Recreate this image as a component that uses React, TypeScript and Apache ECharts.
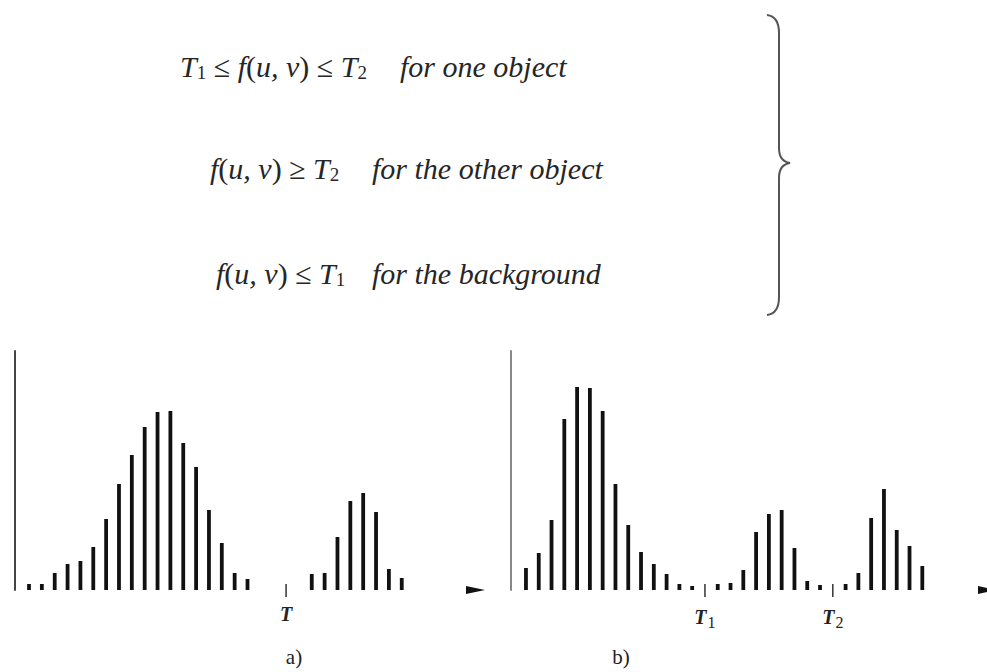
import React, { useEffect, useRef } from "react";
import * as echarts from "echarts";

// Histogram (a): one object on a background, bins 0..29
const countsA = [6, 6, 17, 26, 29, 43, 71, 106, 135, 163, 178, 179, 147, 123, 80, 47, 17, 11, 0, 0, 0, 0, 16, 17, 53, 89, 97, 78, 21, 12];
// Histogram (b): two objects on a background, bins 0..31
const countsB = [22, 37, 70, 171, 203, 202, 179, 106, 65, 38, 26, 16, 6, 4, 0, 6, 7, 20, 58, 76, 80, 42, 9, 5, 0, 6, 17, 72, 101, 60, 44, 24];

// Threshold positions (bin index) and their labels
const thresholdsA = [{ bin: 20, name: "T", sub: "" }];
const thresholdsB = [
  { bin: 14, name: "T", sub: "1" },
  { bin: 24, name: "T", sub: "2" },
];

// Panel captions
const captions = ["a)", "b)"];

// Threshold conditions: [text, style] pieces of the formula, then the wording
const conditions = [
  {
    math: [["T", "it"], ["1", "sub"], [" ≤ ", "op"], ["f", "it"], ["(", "op"], ["u, v", "it"], [")", "op"], [" ≤ ", "op"], ["T", "it"], ["2", "sub"]],
    text: "for one object",
  },
  {
    math: [["f", "it"], ["(", "op"], ["u, v", "it"], [")", "op"], [" ≥ ", "op"], ["T", "it"], ["2", "sub"]],
    text: "for the other object",
  },
  {
    math: [["f", "it"], ["(", "op"], ["u, v", "it"], [")", "op"], [" ≤ ", "op"], ["T", "it"], ["1", "sub"]],
    text: "for the background",
  },
];

const Y_MAX = 239;

const SERIF = "'Liberation Serif', 'DejaVu Serif', serif";
const INK = "#262626";

const bracePath =
  "M767,15 C775,16 779,22 779,33 L779,148 C779,157 783,162 790,163 C783,164 779,169 779,178 L779,297 C779,308 775,314 767,315";

type Threshold = { bin: number; name: string; sub: string };

function barData(counts: number[]) {
  return counts.map((c, i) => [i, c]).filter((d) => d[1] > 0);
}

function tickLabelFormatter(th: Threshold[]) {
  return (v: number) => {
    const t = th.find((x) => Math.abs(x.bin - v) < 1e-6);
    if (!t) return "";
    return t.sub ? `{t|${t.name}}{s|${t.sub}}` : `{t|${t.name}}`;
  };
}

const tickRich = {
  t: { fontFamily: SERIF, fontStyle: "italic", fontWeight: "bold", fontSize: 20, color: "#222" },
  s: { fontFamily: SERIF, fontSize: 16, color: "#222", padding: [10, 0, 0, 1] },
};

const mathRich = {
  it: { fontFamily: SERIF, fontStyle: "italic", fontSize: 30, fill: INK, color: INK },
  op: { fontFamily: SERIF, fontSize: 30, fill: INK, color: INK },
  sub: { fontFamily: SERIF, fontSize: 19, fill: INK, color: INK, padding: [12, 0, 0, 0] },
};

function xAxisFor(gridIndex: number, min: number, max: number, th: Threshold[]) {
  return {
    type: "value",
    gridIndex,
    min,
    max,
    axisLine: { show: false },
    axisTick: { show: false },
    splitLine: { show: false },
    axisLabel: {
      show: true,
      customValues: th.map((t) => t.bin),
      formatter: tickLabelFormatter(th),
      margin: 14,
      fontSize: 20,
      rich: tickRich,
    },
  };
}

function yAxisFor(gridIndex: number, color: string) {
  return {
    type: "value",
    gridIndex,
    min: 0,
    max: Y_MAX,
    axisLine: { show: true, onZero: false, lineStyle: { color, width: 2 } },
    axisTick: { show: false },
    axisLabel: { show: false },
    splitLine: { show: false },
  };
}

// Small threshold marks that cross the baseline
function thresholdTicks(idx: number, th: Threshold[]) {
  return {
    type: "custom",
    xAxisIndex: idx,
    yAxisIndex: idx,
    clip: false,
    data: th.map((t) => [t.bin, 0]),
    renderItem: (_p: any, api: any) => {
      const p = api.coord([api.value(0), 0]);
      return {
        type: "line",
        shape: { x1: p[0], y1: p[1] - 6, x2: p[0], y2: p[1] + 7 },
        style: { stroke: "#333", lineWidth: 1.5 },
      };
    },
  };
}

// Arrowhead at the end of the (hidden) intensity axis
function axisArrow(idx: number, xMax: number) {
  return {
    type: "custom",
    xAxisIndex: idx,
    yAxisIndex: idx,
    clip: false,
    data: [[xMax, 0]],
    renderItem: (_p: any, api: any) => {
      const p = api.coord([api.value(0), 0]);
      return {
        type: "polygon",
        shape: {
          points: [
            [p[0] - 9, p[1] - 4],
            [p[0] + 10, p[1]],
            [p[0] - 9, p[1] + 4],
          ],
        },
        style: { fill: "#111" },
      };
    },
  };
}

export default function App() {
  const ref = useRef<HTMLDivElement>(null);

  useEffect(() => {
    if (!ref.current) return;
    echarts.graphic.registerShape("brace", echarts.graphic.extendPath(bracePath, {}) as any);
    const chart = echarts.init(ref.current, null, { renderer: "svg" });

    const aMin = -1.09, aMax = 34.7;
    const bMin = -1.17, bMax = 36.06;

    const mathX = [180, 210, 216];
    const textX = [400, 372, 372];
    const lineY = [66, 168, 273];

    const graphics: any[] = [];
    conditions.forEach((c, i) => {
      graphics.push({
        type: "text",
        x: mathX[i],
        y: lineY[i],
        style: {
          text: c.math.map(([s, k]) => `{${k}|${s}}`).join(""),
          rich: mathRich,
          verticalAlign: "middle",
          align: "left",
          fill: INK,
        },
      });
      graphics.push({
        type: "text",
        x: textX[i],
        y: lineY[i],
        style: {
          text: c.text,
          fontFamily: SERIF,
          fontStyle: "italic",
          fontSize: 30,
          fill: INK,
          verticalAlign: "middle",
          align: "left",
        },
      });
    });
    graphics.push({
      type: "brace",
      x: 0,
      y: 0,
      style: { stroke: "#555", lineWidth: 2, fill: "none" },
    });
    graphics.push({
      type: "text",
      x: 294,
      y: 657,
      style: { text: captions[0], fontFamily: SERIF, fontSize: 21, fill: "#222", align: "center", verticalAlign: "middle" },
    });
    graphics.push({
      type: "text",
      x: 621,
      y: 657,
      style: { text: captions[1], fontFamily: SERIF, fontSize: 21, fill: "#222", align: "center", verticalAlign: "middle" },
    });

    chart.setOption({
      animation: false,
      backgroundColor: "#ffffff",
      grid: [
        { left: 15, top: 351, width: 460, height: 239 },
        { left: 511, top: 351, width: 478, height: 239 },
      ],
      xAxis: [xAxisFor(0, aMin, aMax, thresholdsA), xAxisFor(1, bMin, bMax, thresholdsB)],
      yAxis: [yAxisFor(0, "#444"), yAxisFor(1, "#888")],
      series: [
        {
          type: "bar",
          xAxisIndex: 0,
          yAxisIndex: 0,
          barWidth: 3.8,
          itemStyle: { color: "#111" },
          data: barData(countsA),
        },
        {
          type: "bar",
          xAxisIndex: 1,
          yAxisIndex: 1,
          barWidth: 3.8,
          itemStyle: { color: "#111" },
          data: barData(countsB),
        },
        thresholdTicks(0, thresholdsA),
        thresholdTicks(1, thresholdsB),
        axisArrow(0, aMax),
        axisArrow(1, bMax),
      ],
      graphic: graphics,
    });

    return () => chart.dispose();
  }, []);

  return (
    <div
      ref={ref}
      style={{ position: "absolute", left: 0, top: 0, width: 987, height: 672, background: "#fff" }}
    />
  );
}
